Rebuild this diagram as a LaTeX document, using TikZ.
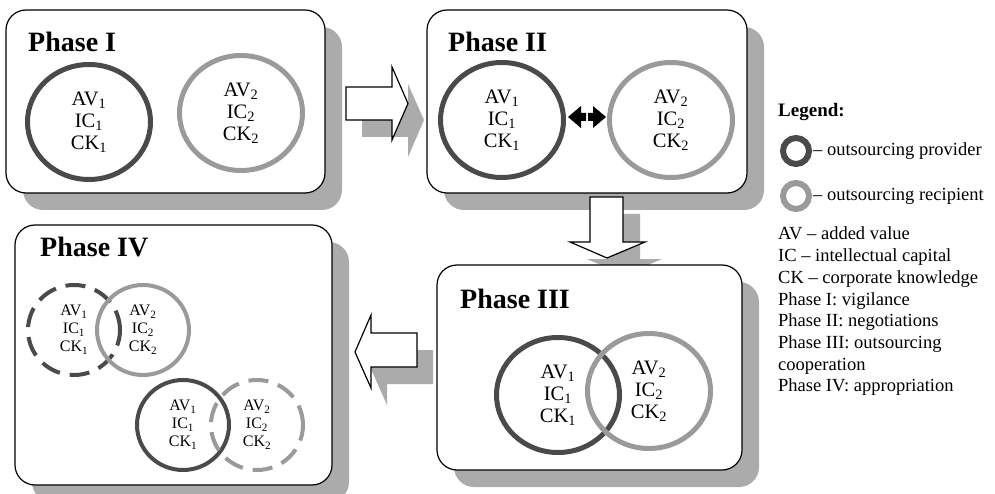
\documentclass[tikz,border=0pt]{standalone}
\usepackage{fontspec}
\setmainfont{Liberation Serif}
\usetikzlibrary{shapes.geometric,shadows}
\definecolor{dk}{HTML}{4A4A4A}
\definecolor{lt}{HTML}{9A9A9A}
\definecolor{sh}{HTML}{ABABAB}
\begin{document}
\begin{tikzpicture}[x=1pt,y=-1pt,
  phasebox/.style={draw=black, line width=1.2pt, rounded corners=20pt, fill=white,
    inner sep=0pt, outer sep=0pt, anchor=north west,
    drop shadow={shadow xshift=17pt, shadow yshift=-17pt, opacity=1, fill=sh}},
  phasetitle/.style={anchor=base west, inner sep=0pt, font=\fontsize{28}{30}\bfseries\selectfont},
  bigc/.style={ellipse, line width=5pt, minimum width=123pt, minimum height=115pt, inner sep=0pt,
    align=center, font=\fontsize{20.5}{22}\selectfont},
  smallc/.style={ellipse, line width=4pt, minimum width=92pt, minimum height=90pt, inner sep=0pt,
    align=center, font=\fontsize{16}{18}\selectfont},
  prov/.style={draw=dk},
  recip/.style={draw=lt},
  dashc/.style={dash pattern=on 20pt off 10pt},
  flowarrow/.style={draw=black, line width=1.2pt, fill=white, line join=miter},
  arrowshadow/.style={fill=sh},
  legc/.style={circle, line width=6pt, minimum size=26pt, inner sep=0pt},
  legtext/.style={anchor=base west, inner sep=0pt, font=\fontsize{18.5}{21}\selectfont},
]
\useasboundingbox (0,0) rectangle (995,494);
\begin{scope}
\clip (0,0) rectangle (995,494);

% arrow shadows
\fill[arrowshadow] (362,104) -- (408,104) -- (408,84) -- (424,120) -- (408,157) -- (408,137) -- (362,137) -- cycle;
\fill[arrowshadow] (607,214) -- (640,214) -- (640,259) -- (662,259) -- (624,275) -- (587,259) -- (607,259) -- cycle;
\fill[arrowshadow] (371,369) -- (387,332) -- (387,350) -- (433,350) -- (433,384) -- (387,384) -- (387,405) -- cycle;

% boxes
\node[phasebox, minimum width=319pt, minimum height=183pt] (p1) at (6,10) {};
\node[phasebox, minimum width=320pt, minimum height=183pt] (p2) at (427,10) {};
\node[phasebox, minimum width=305pt, minimum height=205pt] (p3) at (437,265) {};
\node[phasebox, minimum width=317pt, minimum height=260pt] (p4) at (15,225) {};
\end{scope}

% arrows
\draw[flowarrow] (346,87) -- (392,87) -- (392,67) -- (408,103.5) -- (392,140) -- (392,120) -- (346,120) -- cycle;
\draw[flowarrow] (590,197) -- (623,197) -- (623,242) -- (645,242) -- (607,258) -- (570,242) -- (590,242) -- cycle;
\draw[flowarrow] (355,352) -- (371,315) -- (371,333) -- (417,333) -- (417,367) -- (371,367) -- (371,388) -- cycle;

% titles
\node[phasetitle] (t1) at (28,52) {Phase I};
\node[phasetitle] (t2) at (448,52) {Phase II};
\node[phasetitle] (t3) at (460,308) {Phase III};
\node[phasetitle] (t4) at (40,257) {Phase IV};

% Phase I
\node[bigc, prov] (a1) at (89,122) {AV\textsubscript{1}\\IC\textsubscript{1}\\CK\textsubscript{1}};
\node[bigc, recip] (a2) at (241,113) {AV\textsubscript{2}\\IC\textsubscript{2}\\CK\textsubscript{2}};

% Phase II
\node[bigc, prov] (b1) at (502,120) {AV\textsubscript{1}\\IC\textsubscript{1}\\CK\textsubscript{1}};
\node[bigc, recip] (b2) at (671,120) {AV\textsubscript{2}\\IC\textsubscript{2}\\CK\textsubscript{2}};
\coordinate (dl) at (568,117);
\coordinate (dr) at (606,117);
\fill[black] (dl) -- (581,106) -- (581,113) -- (586,113) -- (586,121) -- (581,121) -- (581,128) -- cycle;
\fill[black] (dr) -- (593,106) -- (593,113) -- (588,113) -- (588,121) -- (593,121) -- (593,128) -- cycle;

% Phase III
\node[bigc, prov] (c1) at (558,395) {AV\textsubscript{1}\\IC\textsubscript{1}\\CK\textsubscript{1}};
\node[bigc, recip] (c2) at (649,391) {AV\textsubscript{2}\\IC\textsubscript{2}\\CK\textsubscript{2}};

% Phase IV
\node[smallc, prov, dashc] (d1) at (74,330) {AV\textsubscript{1}\\IC\textsubscript{1}\\CK\textsubscript{1}};
\node[smallc, recip] (d2) at (143,330) {AV\textsubscript{2}\\IC\textsubscript{2}\\CK\textsubscript{2}};
\node[smallc, prov] (e1) at (183,425) {AV\textsubscript{1}\\IC\textsubscript{1}\\CK\textsubscript{1}};
\node[smallc, recip, dashc] (e2) at (257,425) {AV\textsubscript{2}\\IC\textsubscript{2}\\CK\textsubscript{2}};

% Legend
\node[legtext, font=\fontsize{19}{21}\bfseries\selectfont] (lg) at (778,117) {Legend:};
\node[legc, prov] (l1) at (796,151) {};
\node[legtext] (l1t) at (813,156) {– outsourcing provider};
\node[legc, recip] (l2) at (796,196) {};
\node[legtext] (l2t) at (813,201) {– outsourcing recipient};
\node[legtext] (ld1) at (778,240) {AV – added value};
\node[legtext] (ld2) at (778,261.7) {IC – intellectual capital};
\node[legtext] (ld3) at (778,283.4) {CK – corporate knowledge};
\node[legtext] (ld4) at (778,305.1) {Phase I: vigilance};
\node[legtext] (ld5) at (778,326.8) {Phase II: negotiations};
\node[legtext] (ld6) at (778,348.5) {Phase III: outsourcing};
\node[legtext] (ld7) at (778,370.2) {cooperation};
\node[legtext] (ld8) at (778,391.9) {Phase IV: appropriation};
\end{tikzpicture}
\end{document}
